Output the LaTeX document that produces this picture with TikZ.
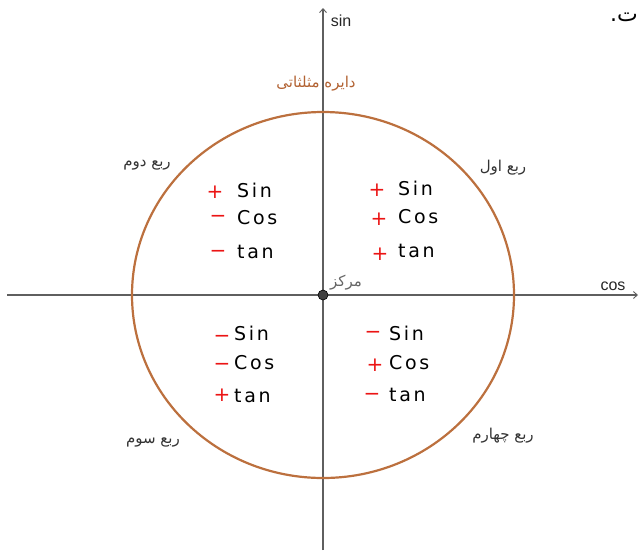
\documentclass[tikz,border=0pt]{standalone}
\usepackage{fontspec}
\setmainfont{Liberation Sans}
\newfontfamily\arabicfont[Script=Arabic]{DejaVu Sans}
\newfontfamily\handfont[LetterSpace=14]{DejaVu Sans}
\TeXXeTstate=1
\usetikzlibrary{arrows.meta}
\definecolor{circbrown}{RGB}{188,112,62}
\definecolor{titlebrown}{RGB}{178,98,50}
\definecolor{axisgray}{RGB}{95,95,95}
\definecolor{signred}{RGB}{235,20,20}
\tikzset{
  axisline/.style={draw=axisgray, line width=1.3pt, -{Straight Barb[length=4pt,width=7pt,line width=0.9pt]}},
  unitcircle/.style={draw=circbrown, line width=2.2pt},
  fa/.style={font=\arabicfont\fontsize{15}{17}\selectfont, text=black!80, inner sep=0pt},
  axislabel/.style={font=\fontsize{16}{18}\selectfont, text=black!85, inner sep=0pt},
  word/.style={font=\handfont\fontsize{19}{20}\selectfont, anchor=west, inner sep=0pt},
  sign/.style={font=\arabicfont\fontsize{20}{20}\selectfont, text=signred, inner sep=0pt},
  dot/.style={circle, fill=black!75, draw=black, line width=0.6pt, minimum size=10pt, inner sep=0pt}
}
\begin{document}
\begin{tikzpicture}[x=1pt,y=-1pt]
\useasboundingbox (0,0) rectangle (639,550);
% axes
\coordinate (xl) at (7,295);
\coordinate (xr) at (638,295);
\coordinate (yb) at (323,550);
\coordinate (yt) at (323,8);
\coordinate (circ) at (323,295);
\draw[axisline] (xl) -- (xr);
\draw[axisline] (yb) -- (yt);
\draw[unitcircle] (circ) ellipse [x radius=191, y radius=183];
\node[dot] (o) at (circ) {};
% axis labels
\node[axislabel] (sinlab) at (341,21) {sin};
\node[axislabel] (coslab) at (613,286) {cos};
\node[font=\arabicfont\fontsize{22}{24}\selectfont, inner sep=0pt, anchor=east] (frag) at (638,17) {\beginR ت.\endR};
% titles
\node[fa, text=titlebrown] (title) at (316,84) {\beginR دایره مثلثاتی\endR};
\node[fa, text=black!60] (center) at (346,283) {\beginR مرکز\endR};
\node[fa] (q1) at (503,168) {\beginR ربع اول\endR};
\node[fa] (q2) at (147,165) {\beginR ربع دوم\endR};
\node[fa] (q3) at (153,442) {\beginR ربع سوم\endR};
\node[fa] (q4) at (503,436) {\beginR ربع چهارم\endR};
% quadrant I
\node[sign] (s1a) at (377,190) {+};
\node[sign] (s1b) at (379,219) {+};
\node[sign] (s1c) at (380,254) {+};
\node[word] (w1a) at (398,188) {Sin};
\node[word] (w1b) at (398,217) {Cos};
\node[word] (w1c) at (398,251) {tan};
% quadrant II
\node[sign] (s2a) at (215,192) {+};
\node[sign] (s2b) at (218,219) {−};
\node[sign] (s2c) at (218,254) {−};
\node[word] (w2a) at (237,190) {Sin};
\node[word] (w2b) at (237,218) {Cos};
\node[word] (w2c) at (237,252) {tan};
% quadrant III
\node[sign] (s3a) at (222,339) {−};
\node[sign] (s3b) at (222,367) {−};
\node[sign] (s3c) at (222,395) {+};
\node[word] (w3a) at (234,333) {Sin};
\node[word] (w3b) at (234,363) {Cos};
\node[word] (w3c) at (234,396) {tan};
% quadrant IV
\node[sign] (s4a) at (373,335) {−};
\node[sign] (s4b) at (375,365) {+};
\node[sign] (s4c) at (372,397) {−};
\node[word] (w4a) at (389,333) {Sin};
\node[word] (w4b) at (389,363) {Cos};
\node[word] (w4c) at (389,395) {tan};
\end{tikzpicture}
\end{document}
